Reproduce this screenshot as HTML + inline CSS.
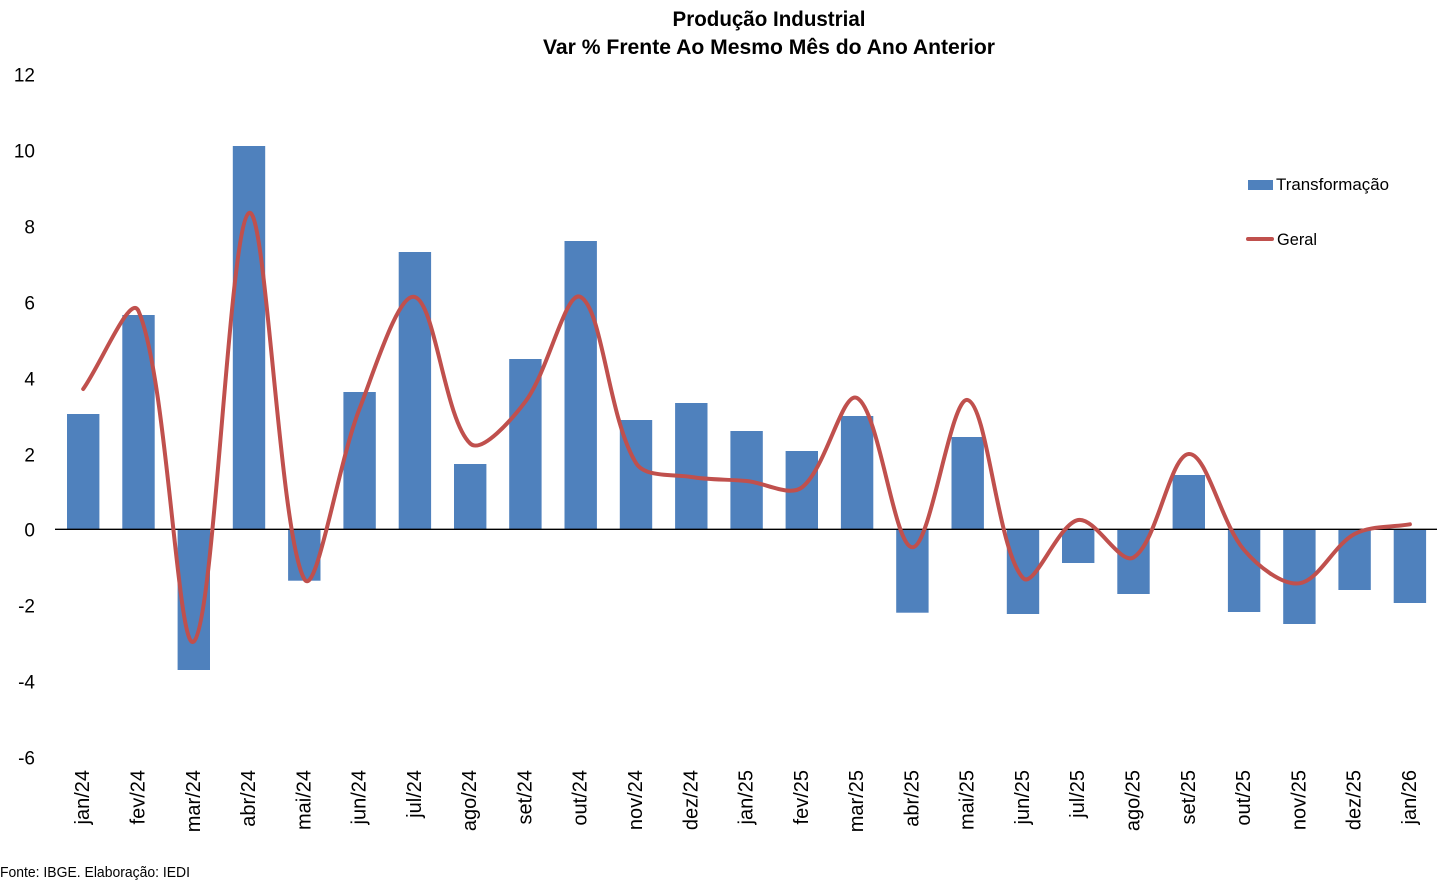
<!DOCTYPE html>
<html>
<head>
<meta charset="utf-8">
<style>
html,body{margin:0;padding:0;background:#fff;}
svg{display:block;}
text{font-family:"Liberation Sans",Arial,sans-serif;fill:#000;}
</style>
</head>
<body>
<svg id="chart" width="1450" height="884" viewBox="0 0 1450 884" xmlns="http://www.w3.org/2000/svg">
<rect x="0" y="0" width="1450" height="884" fill="#fff"/>

<!-- Title -->
<text x="769" y="26" font-size="21" font-weight="bold" text-anchor="middle" textLength="193" lengthAdjust="spacingAndGlyphs">Produção Industrial</text>
<text x="769" y="54" font-size="21" font-weight="bold" text-anchor="middle" textLength="452" lengthAdjust="spacingAndGlyphs">Var % Frente Ao Mesmo Mês do Ano Anterior</text>

<!-- Y axis labels -->
<g font-size="19" text-anchor="end">
<text x="35" y="81.3">12</text>
<text x="35" y="157.3">10</text>
<text x="35" y="233.3">8</text>
<text x="35" y="309.3">6</text>
<text x="35" y="385.3">4</text>
<text x="35" y="461.3">2</text>
<text x="35" y="536.3">0</text>
<text x="35" y="612.3">-2</text>
<text x="35" y="688.3">-4</text>
<text x="35" y="764.3">-6</text>
</g>

<!-- Bars -->
<g fill="#4F81BD">
<rect x="67.0" y="414" width="32.4" height="115.3"/>
<rect x="122.3" y="315" width="32.4" height="214.3"/>
<rect x="177.6" y="529.3" width="32.4" height="140.7"/>
<rect x="232.8" y="146" width="32.4" height="383.3"/>
<rect x="288.1" y="529.3" width="32.4" height="51.4"/>
<rect x="343.4" y="392" width="32.4" height="137.3"/>
<rect x="398.7" y="252" width="32.4" height="277.3"/>
<rect x="454.0" y="464" width="32.4" height="65.3"/>
<rect x="509.2" y="359" width="32.4" height="170.3"/>
<rect x="564.5" y="241" width="32.4" height="288.3"/>
<rect x="619.8" y="420" width="32.4" height="109.3"/>
<rect x="675.1" y="403" width="32.4" height="126.3"/>
<rect x="730.4" y="431" width="32.4" height="98.3"/>
<rect x="785.6" y="451" width="32.4" height="78.3"/>
<rect x="840.9" y="416" width="32.4" height="113.3"/>
<rect x="896.2" y="529.3" width="32.4" height="83.4"/>
<rect x="951.5" y="437" width="32.4" height="92.3"/>
<rect x="1006.8" y="529.3" width="32.4" height="84.7"/>
<rect x="1062.0" y="529.3" width="32.4" height="33.7"/>
<rect x="1117.3" y="529.3" width="32.4" height="64.7"/>
<rect x="1172.6" y="475" width="32.4" height="54.3"/>
<rect x="1227.9" y="529.3" width="32.4" height="82.7"/>
<rect x="1283.2" y="529.3" width="32.4" height="94.7"/>
<rect x="1338.4" y="529.3" width="32.4" height="60.7"/>
<rect x="1393.7" y="529.3" width="32.4" height="73.7"/>
</g>

<!-- Zero axis line -->
<line x1="55" y1="529.3" x2="1437" y2="529.3" stroke="#000" stroke-width="1.4"/>

<!-- Line series (Geral) -->
<path id="geral" fill="none" stroke="#C0504D" stroke-width="4" stroke-linejoin="round" stroke-linecap="round"
d="M83.2,389 L138.5,311 L193.8,641.5 L249,213 L304.3,579 L359.6,408.5 L414.9,297 L470.2,443.5 L525.4,401.6 L580.7,297 L636,463 L691.3,477 L746.6,481 L801.8,487.5 L857.1,398 L912.4,547.3 L967.7,400 L1023,578 L1078.2,520 L1133.5,557.5 L1188.8,454 L1244.1,550 L1299.4,583.3 L1354.6,534 L1409.9,524.3"/>

<!-- Category labels -->
<g font-size="20" text-anchor="end">
<text transform="translate(89.2,770) rotate(-90)">jan/24</text>
<text transform="translate(144.5,770) rotate(-90)">fev/24</text>
<text transform="translate(199.8,770) rotate(-90)">mar/24</text>
<text transform="translate(255.0,770) rotate(-90)">abr/24</text>
<text transform="translate(310.3,770) rotate(-90)">mai/24</text>
<text transform="translate(365.6,770) rotate(-90)">jun/24</text>
<text transform="translate(420.9,770) rotate(-90)">jul/24</text>
<text transform="translate(476.2,770) rotate(-90)">ago/24</text>
<text transform="translate(531.4,770) rotate(-90)">set/24</text>
<text transform="translate(586.7,770) rotate(-90)">out/24</text>
<text transform="translate(642.0,770) rotate(-90)">nov/24</text>
<text transform="translate(697.3,770) rotate(-90)">dez/24</text>
<text transform="translate(752.6,770) rotate(-90)">jan/25</text>
<text transform="translate(807.8,770) rotate(-90)">fev/25</text>
<text transform="translate(863.1,770) rotate(-90)">mar/25</text>
<text transform="translate(918.4,770) rotate(-90)">abr/25</text>
<text transform="translate(973.7,770) rotate(-90)">mai/25</text>
<text transform="translate(1029.0,770) rotate(-90)">jun/25</text>
<text transform="translate(1084.2,770) rotate(-90)">jul/25</text>
<text transform="translate(1139.5,770) rotate(-90)">ago/25</text>
<text transform="translate(1194.8,770) rotate(-90)">set/25</text>
<text transform="translate(1250.1,770) rotate(-90)">out/25</text>
<text transform="translate(1305.4,770) rotate(-90)">nov/25</text>
<text transform="translate(1360.6,770) rotate(-90)">dez/25</text>
<text transform="translate(1415.9,770) rotate(-90)">jan/26</text>
</g>

<!-- Legend -->
<rect x="1248" y="180" width="25" height="10" fill="#4F81BD"/>
<text x="1276" y="190" font-size="17" textLength="113" lengthAdjust="spacingAndGlyphs">Transformação</text>
<line x1="1248" y1="239" x2="1272" y2="239" stroke="#C0504D" stroke-width="4" stroke-linecap="round"/>
<text x="1277" y="245" font-size="17" textLength="40" lengthAdjust="spacingAndGlyphs">Geral</text>

<!-- Source -->
<text x="0" y="877" font-size="15" textLength="190" lengthAdjust="spacingAndGlyphs">Fonte: IBGE. Elaboração: IEDI</text>
</svg>
<script>
(function(){
  var pts=[[83.2,389],[138.5,311],[193.8,641.5],[249,213],[304.3,579],[359.6,408.5],[414.9,297],[470.2,443.5],[525.4,401.6],[580.7,297],[636,463],[691.3,477],[746.6,481],[801.8,487.5],[857.1,398],[912.4,547.3],[967.7,400],[1023,578],[1078.2,520],[1133.5,557.5],[1188.8,454],[1244.1,550],[1299.4,583.3],[1354.6,534],[1409.9,524.3]];
  function dist(a,b){return Math.hypot(b[0]-a[0],b[1]-a[1]);}
  var n=pts.length, d="M"+pts[0][0]+","+pts[0][1];
  for(var i=0;i<n-1;i++){
    var P0=pts[i-1]||pts[i],P1=pts[i],P2=pts[i+1],P3=pts[i+2]||pts[i+1];
    var d01=dist(P0,P1),d12=dist(P1,P2),d23=dist(P2,P3);
    var f1=(1/3)*d12/((d01+d12)||1), f2=(1/3)*d12/((d12+d23)||1);
    var c1=[P1[0]+(P2[0]-P0[0])*f1, P1[1]+(P2[1]-P0[1])*f1];
    var c2=[P2[0]-(P3[0]-P1[0])*f2, P2[1]-(P3[1]-P1[1])*f2];
    d+=" C"+c1[0].toFixed(2)+","+c1[1].toFixed(2)+" "+c2[0].toFixed(2)+","+c2[1].toFixed(2)+" "+P2[0]+","+P2[1];
  }
  document.getElementById("geral").setAttribute("d",d);
})();
</script>
</body>
</html>
